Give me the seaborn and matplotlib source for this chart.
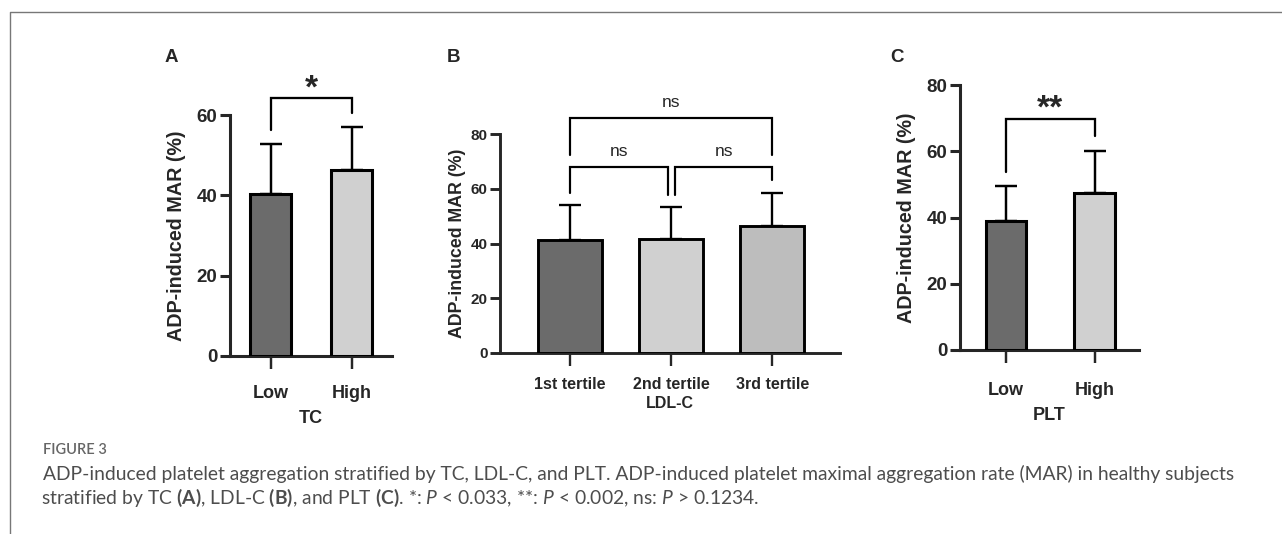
import pandas as pd
import matplotlib.pyplot as plt
import seaborn as sns
from matplotlib.lines import Line2D

# ============================================
# DATA
# ============================================
tc_groups = ["Low", "High"]
tc_mean = [40.3, 46.4]
tc_sd = [12.4, 10.6]

ldl_groups = ["1st tertile", "2nd tertile", "3rd tertile"]
ldl_mean = [41.3, 41.7, 46.4]
ldl_sd = [12.8, 11.7, 12.1]

plt_groups = ["Low", "High"]
plt_mean = [38.8, 47.3]
plt_sd = [10.6, 12.7]

# brackets: (x1, x2, top, left leg end, right leg end, label, label y)
tc_brackets = [(0, 1, 64.2, 56.2, 60.4, "*", 62.5)]
ldl_brackets = [
    (0, 0.97, 68.0, 58.5, 57.8, "ns", 71.0),
    (1.04, 2, 68.0, 57.8, 63.3, "ns", 71.0),
    (0, 2, 86.0, 72.4, 72.4, "ns", 88.8),
]
plt_brackets = [(0, 1, 69.7, 53.6, 64.5, "**", 68.0)]

dark = "#6b6b6b"
light = "#d0d0d0"
mid = "#bdbdbd"

# ============================================
# STYLE
# ============================================
sns.set_style("ticks")
plt.rcParams['font.family'] = ['Liberation Sans', 'DejaVu Sans']
plt.rcParams['mathtext.fontset'] = 'custom'
plt.rcParams['mathtext.rm'] = 'Lato'
plt.rcParams['mathtext.it'] = 'Lato:italic'
plt.rcParams['mathtext.bf'] = 'Lato:bold'

fig = plt.figure(figsize=(12.82, 5.34), dpi=100)

W, H = 1282, 534


def make_ax(x0, x1, ytop, ybot):
    return fig.add_axes([x0 / W, 1 - ybot / H, (x1 - x0) / W, (ybot - ytop) / H])


def draw_panel(ax, groups, mean, sd, colors, width, xlim, ymax, yticks,
               xlabel, brackets, fs, xfs, yfs, sig_fs, sig_bold, lw, xpad, xlpad, ylpad):
    df = pd.DataFrame({"group": groups, "mean": mean})
    sns.barplot(data=df, x="group", y="mean", hue="group", palette=colors,
                width=width, edgecolor="black", linewidth=lw, legend=False,
                ax=ax, zorder=3)
    ax.errorbar(range(len(groups)), mean, yerr=[[0] * len(sd), sd], fmt="none",
                ecolor="black", elinewidth=lw * 0.8, capsize=8,
                capthick=lw * 0.8, zorder=2)
    ax.set_xlim(*xlim)
    ax.set_ylim(0, ymax)
    ax.set_yticks(yticks)
    sns.despine(ax=ax)
    for s in ["left", "bottom"]:
        ax.spines[s].set_linewidth(lw)
    ax.tick_params(axis="y", length=7, width=lw, labelsize=fs, pad=2)
    ax.tick_params(axis="x", length=9, width=lw * 0.8, labelsize=xfs, pad=xpad)
    for t in ax.get_xticklabels() + ax.get_yticklabels():
        t.set_fontweight("bold")
    ax.set_xlabel(xlabel, fontsize=xfs, fontweight="bold", labelpad=xlpad)
    ax.set_ylabel("ADP-induced MAR (%)", fontsize=yfs, fontweight="bold", labelpad=ylpad)
    for x1, x2, top, l1, l2, lab, ly in brackets:
        ax.plot([x1, x1, x2, x2], [l1, top, top, l2], color="black",
                lw=lw * 0.75, clip_on=False, solid_joinstyle="miter")
        ax.text((x1 + x2) / 2, ly, lab, ha="center", va="bottom",
                fontsize=sig_fs, fontweight="bold" if sig_bold else "normal")


axA = make_ax(230, 392, 115, 356)
draw_panel(axA, tc_groups, tc_mean, tc_sd, [dark, light], 0.5, (-0.5, 1.5), 60,
           [0, 20, 40, 60], "TC", tc_brackets, 13.5, 13, 14.2, 24, True, 2.2, 12, 6, 8)

axB = make_ax(500, 840, 134, 353)
draw_panel(axB, ldl_groups, ldl_mean, ldl_sd, [dark, light, mid], 0.63, (-0.69, 2.67), 80,
           [0, 20, 40, 60, 80], "LDL-C", ldl_brackets, 11, 11.5, 12.8, 12.5, False, 2.1, 8, 3, 3)

axC = make_ax(960, 1139, 85, 350)
draw_panel(axC, plt_groups, plt_mean, plt_sd, [dark, light], 0.46, (-0.52, 1.5), 80,
           [0, 20, 40, 60, 80], "PLT", plt_brackets, 13.5, 13, 14.2, 24, True, 2.2, 14, 6, 8)

# panel letters
for lab, x in [("A", 165), ("B", 447), ("C", 890)]:
    fig.text(x / W, 1 - 57 / H, lab, fontsize=13.5, fontweight="bold", va="center")

# frame
fig.add_artist(Line2D([10 / W, 10 / W, 1], [0, 1 - 12 / H, 1 - 12 / H],
                      color="#777777", lw=1.0))

# caption
cap_color = "#4d4d4d"
fig.text(43 / W, 1 - 450 / H, "FIGURE 3", fontsize=10.5, family="Lato",
         fontweight="semibold", color="#666666", va="center")
fig.text(43 / W, 1 - 474 / H,
         "ADP-induced platelet aggregation stratified by TC, LDL-C, and PLT. "
         "ADP-induced platelet maximal aggregation rate (MAR) in healthy subjects",
         fontsize=13.9, family="Lato", color=cap_color, va="center")
fig.text(41 / W, 1 - 498 / H,
         r"stratified by TC $\mathbf{(A)}$, LDL-C $\mathbf{(B)}$, and PLT $\mathbf{(C)}$. "
         r"*: $\mathit{P}$ < 0.033, **: $\mathit{P}$ < 0.002, ns: $\mathit{P}$ > 0.1234.",
         fontsize=13.9, family="Lato", color=cap_color, va="center")

fig.savefig("out.png", dpi=100)
